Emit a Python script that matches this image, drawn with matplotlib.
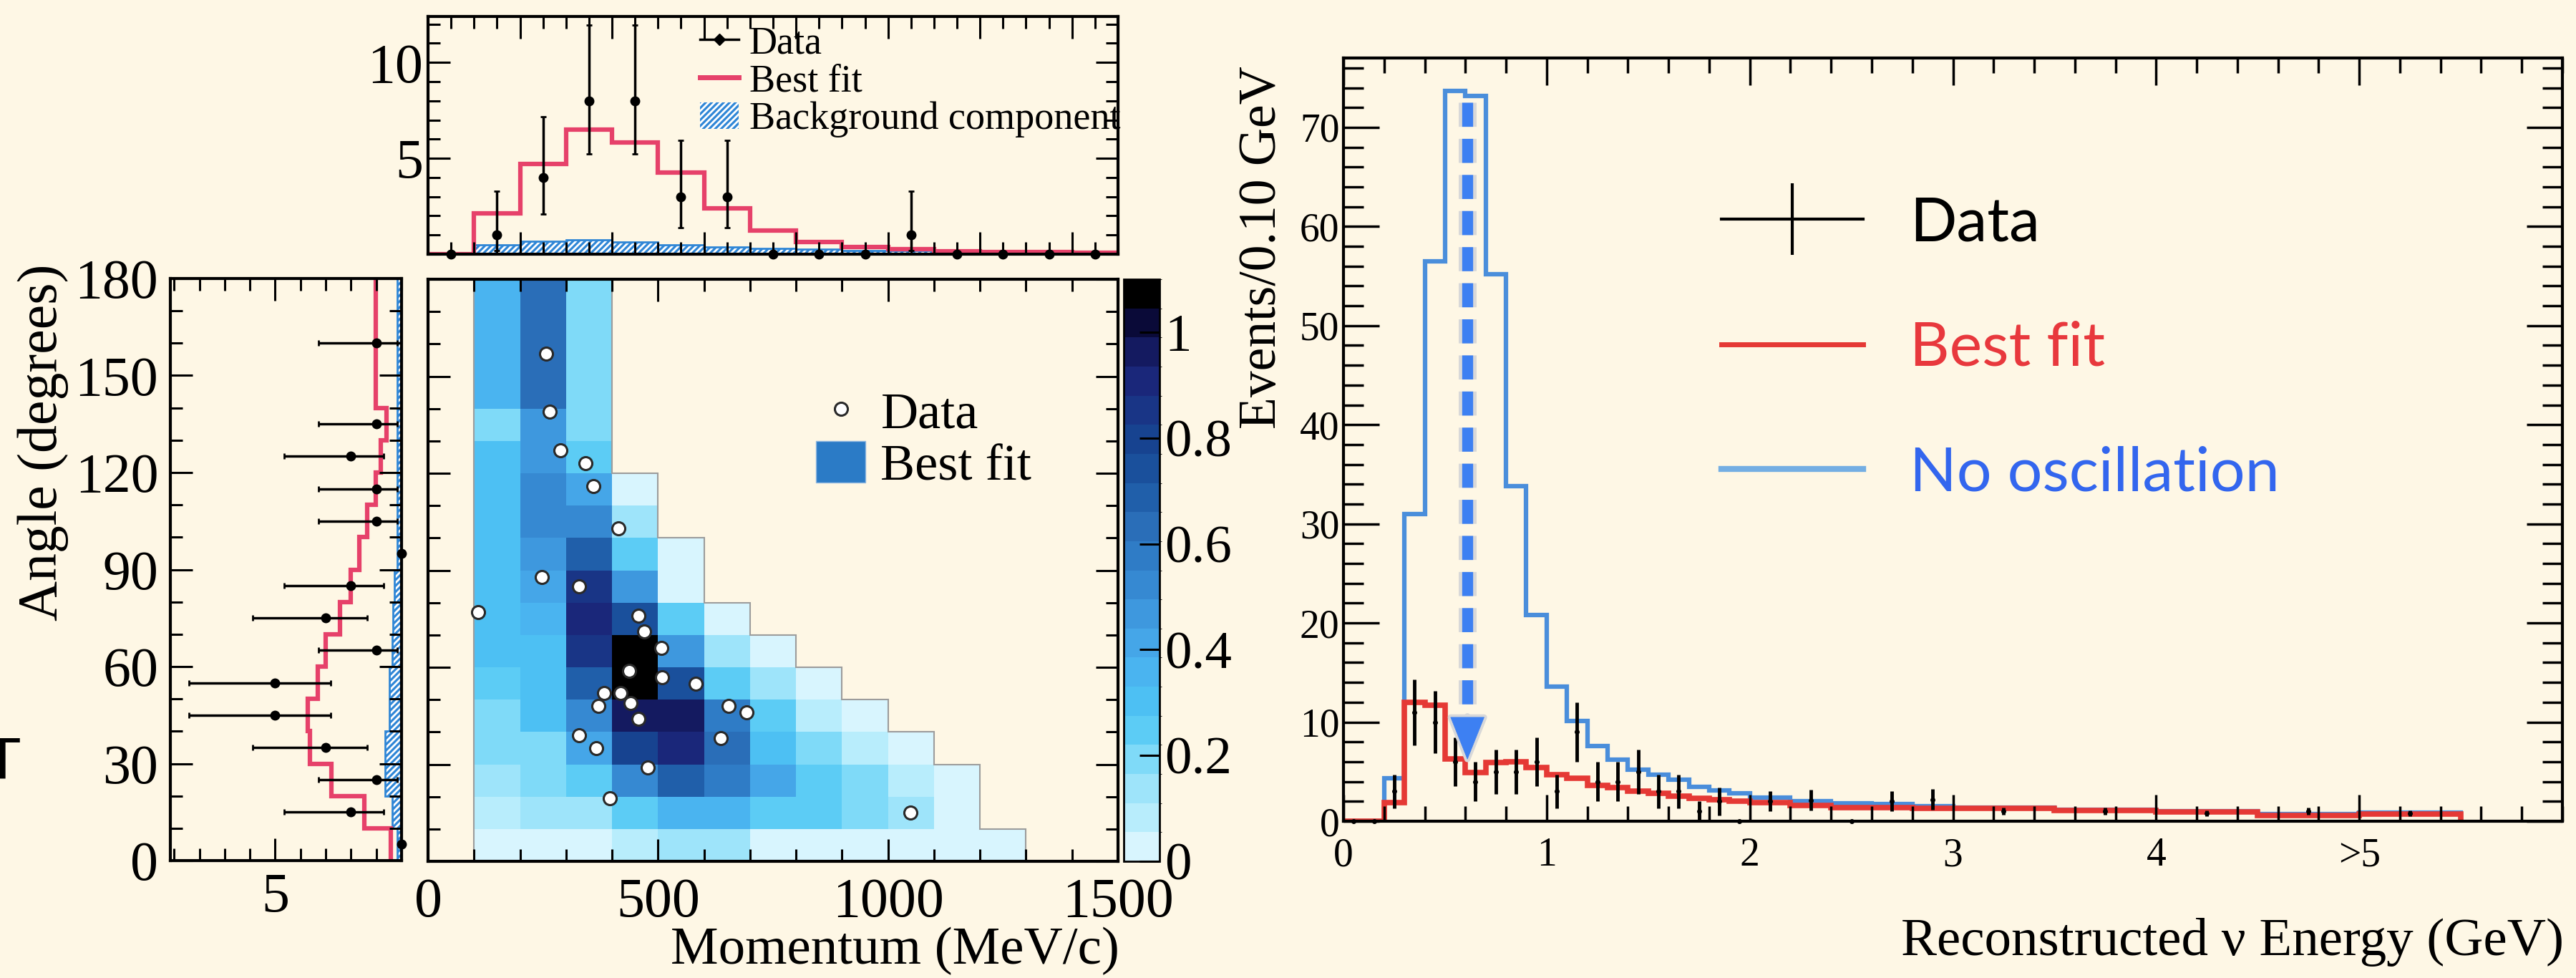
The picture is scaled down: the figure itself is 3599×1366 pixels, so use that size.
import matplotlib
matplotlib.use('Agg')
import matplotlib.pyplot as plt
import matplotlib.patheffects as pe
import numpy as np
from matplotlib.colors import ListedColormap, BoundaryNorm
from matplotlib.lines import Line2D
from matplotlib.patches import Patch
from matplotlib.ticker import MultipleLocator

BG = '#FEF7E5'
RED_L = '#E6416A'
BKG_BLUE = '#2F86D6'
RED_R = '#E53935'
BLUE_R = '#4A8EDB'

plt.rcParams['font.family'] = ['Liberation Serif', 'DejaVu Serif']
plt.rcParams['hatch.linewidth'] = 2.0

# ---- momentum projection (top panel) ----
mom_edges = [0, 100, 200, 300, 400, 500, 600, 700, 800, 900, 1000, 1100, 1200, 1300, 1400, 1500]
mom_counts = [0, 1, 4, 8, 8, 3, 3, 0, 0, 0, 1, 0, 0, 0, 0]
mom_err_lo = [0, 0.83, 1.91, 2.77, 2.77, 1.63, 1.63, 0, 0, 0, 0.83, 0, 0, 0, 0]
mom_err_hi = [0, 2.30, 3.16, 3.96, 3.96, 2.92, 2.92, 0, 0, 0, 2.30, 0, 0, 0, 0]
mom_fit = [0, 2.13, 4.70, 6.50, 5.83, 4.26, 2.38, 1.25, 0.63, 0.38, 0.25, 0.15, 0.12, 0.10, 0.08]
mom_bkg = [0, 0.50, 0.69, 0.75, 0.63, 0.50, 0.38, 0.31, 0.25, 0.19, 0.19, 0.12, 0.10, 0.08, 0.06]

# ---- angle projection (left panel) ----
ang_edges = [0, 10, 20, 30, 40, 50, 60, 70, 80, 90, 100, 110, 120, 130, 140, 180]
ang_counts = [0, 2, 1, 3, 5, 5, 1, 3, 2, 0, 1, 1, 2, 1, 1]
ang_err_lo = [0, 1.30, 0.83, 1.65, 2.20, 2.20, 0.83, 1.65, 1.30, 0, 0.83, 0.83, 1.30, 0.83, 0.83]
ang_err_hi = [0, 2.65, 2.30, 2.90, 3.40, 3.40, 2.30, 2.90, 2.65, 0, 2.30, 2.30, 2.65, 2.30, 2.30]
ang_fit = [0.43, 1.47, 2.77, 3.62, 3.70, 3.32, 2.99, 2.45, 2.01, 1.68, 1.36, 1.03, 0.82, 0.60, 1.03]
ang_bkg = [0.16, 0.38, 0.65, 0.65, 0.49, 0.49, 0.38, 0.33, 0.27, 0.16, 0.16, 0.16, 0.16, 0.16, 0.16]

# ---- 2D best fit (rows: angle bins bottom->top, cols: momentum bins) ----
n = None
heat_rows = [
    [n, 0.03, 0.04, 0.04, 0.08, 0.14, 0.14, 0.05, 0.04, 0.03, 0.03, 0.03, 0.02, n, n],
    [n, 0.08, 0.12, 0.14, 0.25, 0.36, 0.36, 0.27, 0.25, 0.22, 0.14, 0.04, n, n, n],
    [n, 0.14, 0.18, 0.27, 0.52, 0.68, 0.55, 0.41, 0.27, 0.19, 0.10, 0.03, n, n, n],
    [n, 0.17, 0.22, 0.41, 0.80, 0.90, 0.62, 0.33, 0.19, 0.08, 0.03, n, n, n, n],
    [n, 0.20, 0.28, 0.50, 0.99, 0.96, 0.57, 0.25, 0.08, 0.03, n, n, n, n, n],
    [n, 0.24, 0.31, 0.70, 1.08, 0.72, 0.25, 0.14, 0.03, n, n, n, n, n, n],
    [n, 0.28, 0.33, 0.88, 1.05, 0.45, 0.14, 0.03, n, n, n, n, n, n, n],
    [n, 0.28, 0.38, 0.92, 0.77, 0.25, 0.03, n, n, n, n, n, n, n, n],
    [n, 0.28, 0.42, 0.86, 0.47, 0.05, n, n, n, n, n, n, n, n, n],
    [n, 0.28, 0.47, 0.70, 0.25, 0.03, n, n, n, n, n, n, n, n, n],
    [n, 0.28, 0.53, 0.52, 0.14, n, n, n, n, n, n, n, n, n, n],
    [n, 0.28, 0.50, 0.41, 0.03, n, n, n, n, n, n, n, n, n, n],
    [n, 0.28, 0.48, 0.27, n, n, n, n, n, n, n, n, n, n, n],
    [n, 0.19, 0.45, 0.20, n, n, n, n, n, n, n, n, n, n, n],
    [n, 0.36, 0.62, 0.20, n, n, n, n, n, n, n, n, n, n, n],
]
palette = ['#D8F5FE', '#B8EDFC', '#9EE4FA', '#7FDAF8', '#5CCCF5', '#4DC0F3', '#4AB4F0',
           '#45A6E8', '#3E98DE', '#3689D2', '#2F7CC6', '#2A6EB8', '#205FAA', '#1A509C',
           '#174390', '#193586', '#1A277A', '#141A60', '#0A0A38', '#000000']
z_max = 1.1
cbar_ticks = [0, 0.2, 0.4, 0.6, 0.8, 1.0]
cbar_labels = ['0', '0.2', '0.4', '0.6', '0.8', '1']

# data events (momentum MeV/c, angle deg)
ev_mom = [257, 264, 288, 343, 359, 414, 248, 328, 109, 458, 470, 508, 438, 509,
          582, 383, 418, 371, 440, 458, 653, 692, 329, 637, 365, 477, 395, 1048]
ev_ang = [157, 139, 127, 123, 116, 103, 88, 85, 77, 76, 71, 66, 59, 57,
          55, 52, 52, 48, 49, 44, 48, 46, 39, 38, 35, 29, 19.5, 15]

# ---- reconstructed energy spectrum (right panel) ----
e_edges = [0, 0.1, 0.2, 0.3, 0.4, 0.5, 0.6, 0.7, 0.8, 0.9, 1.0, 1.1, 1.2, 1.3, 1.4, 1.5,
           1.6, 1.7, 1.8, 1.9, 2.0, 2.2, 2.4, 2.6, 2.8, 3.0, 3.5, 4.0, 4.5, 5.0, 5.5]
e_noosc = [0, 0, 4.3, 31.0, 56.5, 73.7, 73.2, 55.2, 33.8, 20.8, 13.6, 10.1, 7.6, 6.2, 5.2,
           4.7, 4.2, 3.5, 3.1, 2.8, 2.4, 2.05, 1.8, 1.7, 1.55, 1.4, 1.15, 1.0, 0.7, 0.85]
e_fit = [0, 0, 1.9, 12.0, 11.7, 6.3, 4.9, 5.9, 6.0, 5.4, 4.7, 4.3, 3.6, 3.4, 3.0,
         2.8, 2.5, 2.3, 2.2, 2.0, 1.86, 1.57, 1.4, 1.35, 1.3, 1.3, 1.05, 0.95, 0.6, 0.75]
e_data = [0, 0, 3, 11, 10, 6, 4, 5, 5, 6, 3, 9, 4, 4, 5, 3, 3, 1, 2, 0,
          2.0, 2.1, 0, 2.0, 2.2, 1.0, 1.0, 0.8, 1.0, 0.8]
e_data_err = [0, 0, 1.73, 3.32, 3.16, 2.45, 2.0, 2.24, 2.24, 2.45, 1.73, 3.0, 2.0, 2.0, 2.24,
              1.73, 1.73, 1.0, 1.41, 0, 1.0, 1.05, 0, 1.0, 1.05, 0.35, 0.35, 0.3, 0.35, 0.3]
e_tick_labels = ['0', '1', '2', '3', '4', '>5']
arrow_e, arrow_top, arrow_tip = 0.61, 72.5, 6.0

W, H = 3599, 1366
fig = plt.figure(figsize=(W / 100, H / 100), dpi=100, facecolor=BG)


def px_axes(l, t, r, b):
    ax = fig.add_axes([l / W, 1 - b / H, (r - l) / W, (b - t) / H])
    ax.set_facecolor(BG)
    for s in ax.spines.values():
        s.set_linewidth(3)
    return ax


def root_ticks(ax, major=22, minor=12, width=2.2, size=56, pad=12):
    ax.tick_params(which='both', direction='in', top=True, right=True, width=width,
                   labelsize=size, pad=pad)
    ax.tick_params(which='major', length=major)
    ax.tick_params(which='minor', length=minor)


ax_top = px_axes(598, 23, 1562, 355)
ax_2d = px_axes(598, 390, 1562, 1203)
cax = px_axes(1570, 390, 1620, 1203)
ax_ang = px_axes(238, 389, 561, 1202)
ax_e = px_axes(1877, 81, 3580, 1147)

# ---------- top histogram ----------
mom_c = (np.array(mom_edges[:-1]) + np.array(mom_edges[1:])) / 2
mc = np.array(mom_counts, float)
ax_top.stairs(mom_bkg, mom_edges, fill=True, facecolor=BKG_BLUE, edgecolor='white',
              hatch='////', linewidth=0)
ax_top.stairs(mom_bkg, mom_edges, color=BKG_BLUE, lw=2, baseline=None)
ax_top.stairs(mom_fit, mom_edges, color=RED_L, lw=4.5, baseline=None)
nz = mc > 0
ax_top.errorbar(mom_c[nz], mc[nz], yerr=[np.array(mom_err_lo)[nz], np.array(mom_err_hi)[nz]],
                fmt='o', color='black', ms=9, elinewidth=2.5, capsize=3, capthick=2)
ax_top.plot(mom_c[~nz], mc[~nz], 'o', color='black', ms=9, clip_on=False, zorder=5)
ax_top.set_xlim(0, 1500)
ax_top.set_ylim(0, 12.4)
ax_top.xaxis.set_major_locator(MultipleLocator(200))
ax_top.xaxis.set_minor_locator(MultipleLocator(50))
ax_top.set_yticks([5, 10])
ax_top.yaxis.set_minor_locator(MultipleLocator(1))
root_ticks(ax_top, pad=5)
ax_top.tick_params(labelbottom=False)
h_data = Line2D([], [], color='black', marker='D', ms=8, lw=2.5)
h_fit = Line2D([], [], color=RED_L, lw=5)
h_bkg = Patch(facecolor=BKG_BLUE, edgecolor='white', hatch='////', lw=0)
ax_top.legend([h_data, h_fit, h_bkg], ['Data', 'Best fit', 'Background component'],
              loc='upper left', bbox_to_anchor=(0.36, 1.06), frameon=False, fontsize=39,
              handlelength=1.0, handletextpad=0.28, labelspacing=0.05, borderpad=0.1)

# ---------- angle histogram ----------
ang_c = (np.array(ang_edges[:-1]) + np.array(ang_edges[1:])) / 2
ac = np.array(ang_counts, float)
ax_ang.stairs(ang_bkg, ang_edges, orientation='horizontal', fill=True, facecolor=BKG_BLUE,
              edgecolor='white', hatch='////', linewidth=0)
ax_ang.stairs(ang_bkg, ang_edges, orientation='horizontal', color=BKG_BLUE, lw=2, baseline=None)
ax_ang.stairs(ang_fit, ang_edges, orientation='horizontal', color=RED_L, lw=4.5, baseline=None)
nz = ac > 0
ax_ang.errorbar(ac[nz], ang_c[nz], xerr=[np.array(ang_err_lo)[nz], np.array(ang_err_hi)[nz]],
                fmt='o', color='black', ms=9, elinewidth=2.5, capsize=3, capthick=2)
ax_ang.plot(ac[~nz], ang_c[~nz], 'o', color='black', ms=9, clip_on=False, zorder=5)
ax_ang.set_xlim(9.15, 0)
ax_ang.set_ylim(0, 180)
ax_ang.set_xticks([5])
ax_ang.xaxis.set_minor_locator(MultipleLocator(1))
ax_ang.yaxis.set_major_locator(MultipleLocator(30))
ax_ang.yaxis.set_minor_locator(MultipleLocator(10))
root_ticks(ax_ang, pad=12)
fig.text(60 / W, 1 - 618 / H, 'Angle (degrees)', fontsize=56, rotation=90,
         ha='center', va='center')

# ---------- 2D map ----------
heat = np.array(heat_rows, dtype=float)
cmap = ListedColormap(palette)
norm = BoundaryNorm(np.linspace(0, z_max, len(palette) + 1), len(palette))
mesh = ax_2d.pcolormesh(mom_edges, ang_edges, np.ma.masked_invalid(heat), cmap=cmap, norm=norm)
col_tops = []
for j in range(heat.shape[1]):
    rows = np.where(~np.isnan(heat[:, j]))[0]
    col_tops.append(ang_edges[rows.max() + 1] if len(rows) else 0)
ax_2d.stairs(col_tops, mom_edges, color='#9C9C9C', lw=1.5, baseline=0)
ax_2d.plot(ev_mom, ev_ang, 'o', mfc='white', mec='#2A2A2A', ms=13, mew=2.2, ls='none')
ax_2d.set_xlim(0, 1500)
ax_2d.set_ylim(0, 180)
ax_2d.set_xticks([0, 500, 1000, 1500])
ax_2d.xaxis.set_minor_locator(MultipleLocator(100))
ax_2d.yaxis.set_major_locator(MultipleLocator(30))
ax_2d.yaxis.set_minor_locator(MultipleLocator(10))
root_ticks(ax_2d, pad=16)
ax_2d.tick_params(labelleft=False)
cb = fig.colorbar(mesh, cax=cax, ticks=cbar_ticks)
cb.ax.set_yticklabels(cbar_labels)
cb.outline.set_linewidth(2)
cax.tick_params(direction='in', length=20, width=2.2, labelsize=54, pad=5, right=True, left=False)
h_pt = Line2D([], [], marker='o', mfc='white', mec='#2A2A2A', ms=13, mew=2.2, ls='none')
h_box = Patch(facecolor='#2B7BC6', edgecolor='#8FB8E0', lw=1)
ax_2d.legend([h_pt, h_box], ['Data', 'Best fit'], loc='upper left', bbox_to_anchor=(0.525, 0.855),
             frameon=False, fontsize=52, handlelength=0.95, handleheight=0.85,
             handletextpad=0.3, labelspacing=0.05, borderpad=0)
fig.text(1250 / W, 1 - 1328 / H, 'Momentum (MeV/c)', fontsize=54, ha='center', va='center')

# ---------- energy spectrum ----------
e_c = (np.array(e_edges[:-1]) + np.array(e_edges[1:])) / 2
ed = np.array(e_data, float)
ax_e.stairs(e_noosc, e_edges, color=BLUE_R, lw=4.5, baseline=0)
ax_e.stairs(e_fit, e_edges, color=RED_R, lw=5.5, baseline=0)
nz = ed > 0
ax_e.errorbar(e_c[nz], ed[nz], yerr=np.array(e_data_err)[nz], fmt='o', color='black', ms=4,
              elinewidth=3.5, capsize=0, zorder=6)
ax_e.plot(e_c[~nz], ed[~nz], 'o', color='black', ms=4, clip_on=False, zorder=6)
glow = [pe.Stroke(linewidth=18, foreground='#D8D8D8'), pe.Normal()]
ax_e.plot([arrow_e, arrow_e], [arrow_top, arrow_tip + 4.6], ls=(0, (2.2, 1.1)), lw=11,
          color='#3D80F2', solid_capstyle='butt', path_effects=glow, zorder=7)
ax_e.annotate('', xy=(arrow_e, arrow_tip), xytext=(arrow_e, arrow_tip + 4.8),
              arrowprops=dict(arrowstyle='-|>,head_length=0.6,head_width=0.24', mutation_scale=70,
                              color='#3D80F2', lw=0.5,
                              path_effects=[pe.Stroke(linewidth=6, foreground='#D8D8D8'), pe.Normal()]),
              zorder=8)
ax_e.set_xlim(0, 6)
ax_e.set_ylim(0, 77)
ax_e.set_xticks([0, 1, 2, 3, 4, 5])
ax_e.set_xticklabels(e_tick_labels)
ax_e.xaxis.set_minor_locator(MultipleLocator(0.2))
ax_e.yaxis.set_major_locator(MultipleLocator(10))
ax_e.yaxis.set_minor_locator(MultipleLocator(2))
ax_e.tick_params(which='both', direction='in', top=True, right=True, width=2.5, labelsize=40)
ax_e.tick_params(axis='y', which='major', length=36, pad=4)
ax_e.tick_params(axis='y', which='minor', length=20)
ax_e.tick_params(axis='x', which='major', length=27, pad=16)
ax_e.tick_params(axis='x', which='minor', length=15)
fig.text(1764 / W, 1 - 346 / H, 'Events/0.10 GeV', fontsize=53, rotation=90,
         ha='center', va='center')
fig.text(3582 / W, 1 - 1316 / H, 'Reconstructed \u03bd Energy (GeV)', fontsize=54,
         ha='right', va='center')
h1 = Line2D([], [], color='black', lw=3, marker='|', ms=72, mew=3)
h2 = Line2D([], [], color=RED_R, lw=5)
h3 = Line2D([], [], color='#74AEE3', lw=6)
leg = ax_e.legend([h1, h2, h3], ['Data', 'Best fit', 'No oscillation'], loc='upper left',
                  bbox_to_anchor=(0.285, 0.86), frameon=False,
                  prop={'family': 'Lato', 'size': 62}, handlelength=2.3,
                  handletextpad=0.75, labelspacing=1.12, borderpad=0)
for t, c in zip(leg.get_texts(), ['black', '#E8383D', '#3366EE']):
    t.set_color(c)

# cut-off glyph at the left edge of the slide
fig.text(3 / W, 1 - 1066 / H, 'T', fontsize=56, ha='center', va='center',
         family='DejaVu Sans')

fig.savefig('out.png', dpi=100, facecolor=BG)
